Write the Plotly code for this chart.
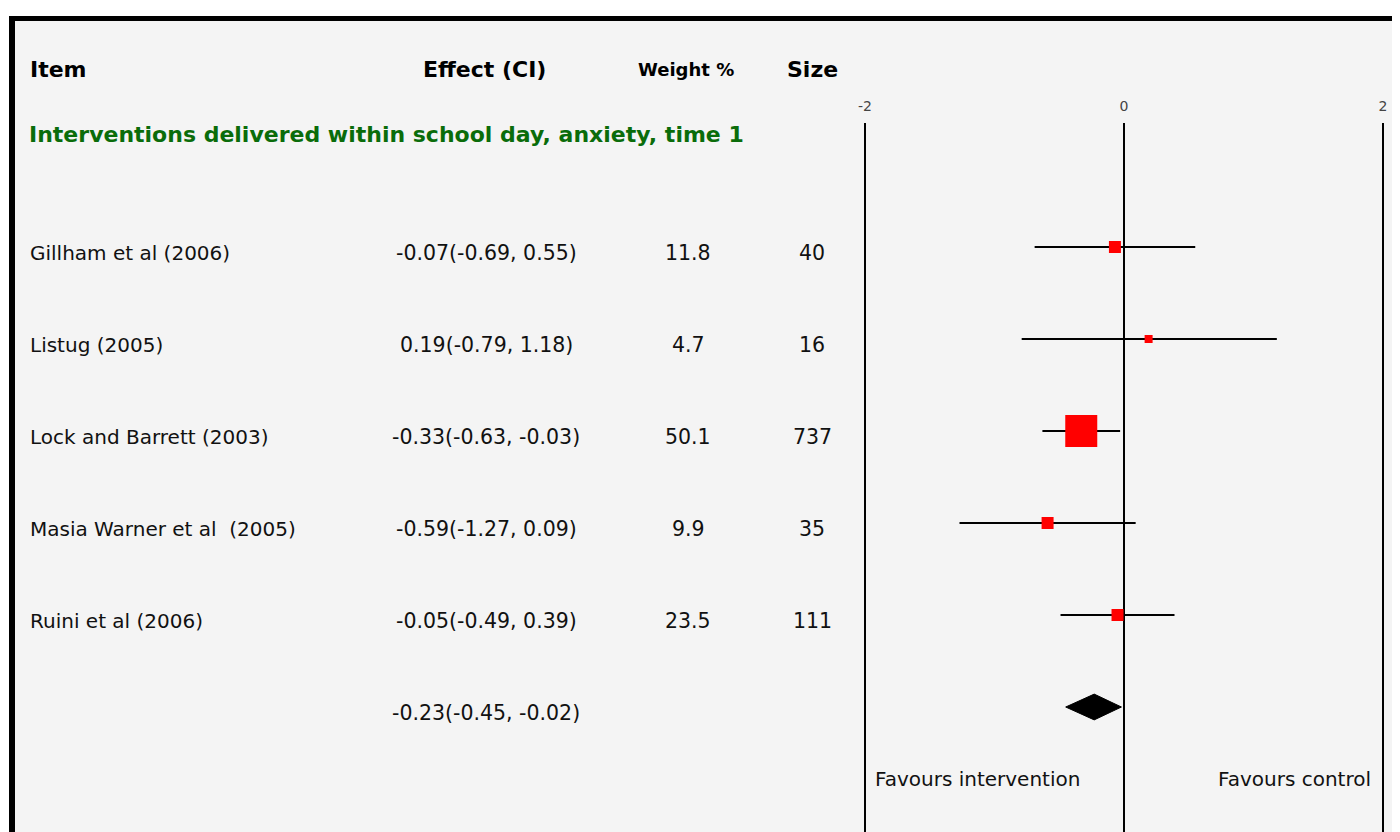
import plotly.graph_objects as go

# ---- data ----
studies = ["Gillham et al (2006)", "Listug (2005)", "Lock and Barrett (2003)",
           "Masia Warner et al  (2005)", "Ruini et al (2006)"]
effect = [-0.07, 0.19, -0.33, -0.59, -0.05]
ci_low = [-0.69, -0.79, -0.63, -1.27, -0.49]
ci_high = [0.55, 1.18, -0.03, 0.09, 0.39]
weight = [11.8, 4.7, 50.1, 9.9, 23.5]
sample_size = [40, 16, 737, 35, 111]
pooled_effect = -0.23
pooled_low = -0.45
pooled_high = -0.02
x_ticks = [-2, 0, 2]
group_title = "Interventions delivered within school day, anxiety, time 1"
headers = ["Item", "Effect (CI)", "Weight %", "Size"]
favours = ["Favours intervention", "Favours control"]

# ---- style ----
marker_px = [12, 8, 32, 12, 12]
FONT = "DejaVu Sans"
OFF = 8                      # page body margin of the HTML page
W, H = 1400 - OFF, 832 - OFF
GREEN = "#0a6c0a"

def px_x(p):
    return (p - OFF) / W

def px_y(p):
    return 1 - (p - OFF) / H

rows = list(range(len(studies)))
pooled_row = len(studies)

fig = go.Figure()

# CI lines
xs, ys = [], []
for r, lo, hi in zip(rows, ci_low, ci_high):
    xs += [lo, hi, None]
    ys += [r, r, None]
fig.add_trace(go.Scatter(x=xs, y=ys, mode="lines",
                         line=dict(color="black", width=2),
                         hoverinfo="skip", showlegend=False))

# point estimates
fig.add_trace(go.Scatter(x=effect, y=rows, mode="markers",
                         marker=dict(symbol="square", color="#ff0000", opacity=1,
                                     size=marker_px, line=dict(width=0)),
                         showlegend=False))

# pooled diamond
h = 0.14
fig.add_trace(go.Scatter(
    x=[pooled_low, pooled_effect, pooled_high, pooled_effect, pooled_low],
    y=[pooled_row, pooled_row - h, pooled_row, pooled_row + h, pooled_row],
    mode="lines", fill="toself", fillcolor="black",
    line=dict(color="black", width=1), showlegend=False))

ann = []
# headers
hx = [(28, "left", 22), (485, "center", 22), (686, "center", 18), (812, "center", 22)]
for text, (x, al, fs) in zip(headers, hx):
    ann.append(dict(x=px_x(x), y=px_y(69), xref="paper", yref="paper",
                    text=f"<b>{text}</b>", showarrow=False, xanchor=al,
                    yanchor="middle", font=dict(family=FONT, size=fs, color="black")))
# group title
ann.append(dict(x=px_x(27), y=px_y(135), xref="paper", yref="paper",
                text=f"<b>{group_title}</b>", showarrow=False, xanchor="left",
                yanchor="middle", font=dict(family=FONT, size=22, color=GREEN)))

name_font = dict(family=FONT, size=20, color="#111111")
num_font = dict(family=FONT, size=20.5, color="#111111")
for r, name, e, lo, hi, w, n in zip(rows, studies, effect, ci_low, ci_high, weight, sample_size):
    ann.append(dict(x=px_x(28), y=r, xref="paper", yref="y", yshift=-6,
                    text=name, showarrow=False, xanchor="left", yanchor="middle", font=name_font))
    ann.append(dict(x=px_x(486), y=r, xref="paper", yref="y", yshift=-6,
                    text=f"{e:.2f}({lo:.2f}, {hi:.2f})", showarrow=False,
                    xanchor="center", yanchor="middle", font=num_font))
    ann.append(dict(x=px_x(688), y=r, xref="paper", yref="y", yshift=-6,
                    text=f"{w:.1f}", showarrow=False, xanchor="center", yanchor="middle", font=num_font))
    ann.append(dict(x=px_x(812), y=r, xref="paper", yref="y", yshift=-6,
                    text=f"{n}", showarrow=False, xanchor="center", yanchor="middle", font=num_font))
ann.append(dict(x=px_x(486), y=pooled_row, xref="paper", yref="y", yshift=-6,
                text=f"{pooled_effect:.2f}({pooled_low:.2f}, {pooled_high:.2f})",
                showarrow=False, xanchor="center", yanchor="middle", font=num_font))

# favours labels
ann.append(dict(x=px_x(873), y=px_y(779), xref="paper", yref="paper", text=favours[0],
                showarrow=False, xanchor="left", yanchor="middle", font=name_font))
ann.append(dict(x=px_x(1373), y=px_y(779), xref="paper", yref="paper", text=favours[1],
                showarrow=False, xanchor="right", yanchor="middle", font=name_font))

shapes = [
    dict(type="rect", xref="paper", yref="paper", x0=px_x(9), x1=1.05, y0=-0.05, y1=px_y(16),
         fillcolor="black", line=dict(width=0), layer="below"),
    dict(type="rect", xref="paper", yref="paper", x0=px_x(15), x1=1.05, y0=-0.05, y1=px_y(21),
         fillcolor="#f4f4f4", line=dict(width=0), layer="below"),
]

# x axis: -2 at px 865, 2 at px 1383
x_lo_px, x_hi_px = 852, 1396
rng = 2.1
top_px = 123
row_px0, row_step = 247, 92
r0 = -(row_px0 - top_px) / row_step
r1 = r0 + (832 - top_px) / row_step

fig.update_layout(
    width=W, height=H, margin=dict(l=0, r=0, t=0, b=0),
    paper_bgcolor="white", plot_bgcolor="rgba(0,0,0,0)",
    showlegend=False, annotations=ann, shapes=shapes,
    xaxis=dict(domain=[px_x(x_lo_px), px_x(x_hi_px)], range=[-rng, rng], side="top",
               tickvals=x_ticks, ticktext=[str(t) for t in x_ticks],
               showgrid=True, gridcolor="black", gridwidth=2, zeroline=False,
               showline=False, ticks="outside", ticklen=5, tickcolor="rgba(0,0,0,0)",
               tickfont=dict(family=FONT, size=14, color="#444444"),
               fixedrange=True),
    yaxis=dict(domain=[0, px_y(top_px)], range=[r1, r0], showgrid=False, zeroline=False,
               showticklabels=False, showline=False, ticks="", fixedrange=True),
)

fig.write_html("out.html")
